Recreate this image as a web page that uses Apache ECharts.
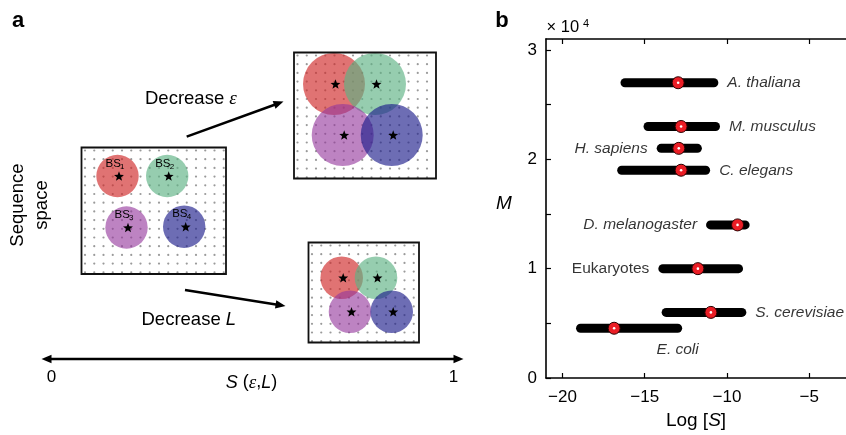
<!DOCTYPE html>
<html>
<head>
<meta charset="utf-8">
<script src="https://cdn.jsdelivr.net/npm/echarts@6/dist/echarts.min.js"></script>
<style>
  html, body { margin: 0; padding: 0; background: #fff; }
  #main { width: 846px; height: 435px; }
</style>
</head>
<body>
<div id="main"></div>
<script>
// panel b data (M in genes, Log[S])
var species = ['A. thaliana', 'M. musculus', 'H. sapiens', 'C. elegans', 'D. melanogaster', 'Eukaryotes', 'S. cerevisiae', 'E. coli'];
var geneCount = [27000, 23000, 21000, 19000, 14000, 10000, 6000, 4550];
var logSLow = [-16.2, -14.8, -14.0, -16.4, -11.0, -13.9, -13.7, -18.9];
var logSHigh = [-10.8, -10.7, -11.8, -11.3, -8.9, -9.3, -9.1, -13.0];
var logSMid = [-12.97, -12.79, -12.93, -12.79, -9.36, -11.77, -10.98, -16.86];
var labelSide = ['right', 'right', 'left', 'right', 'left', 'left', 'right', 'bottom'];
var italicName = [true, true, true, true, true, false, true, true];

var xTicks = [-20, -15, -10, -5];
var yTicks = [0, 5000, 10000, 15000, 20000, 25000, 30000];
var yLabels = [0, 10000, 20000, 30000];

var FONT = 'Liberation Sans, Arial, sans-serif';

// 初始化echarts实例
var myChart = echarts.init(document.getElementById('main'));

// ---------- panel a : schematic drawn with graphic elements ----------
var graphics = [];

function txt(text, x, y, size, o) {
  o = o || {};
  return {
    type: 'text', x: x, y: y, rotation: o.rot || 0, z: o.z || 10,
    style: {
      text: text, x: 0, y: 0, fill: '#000',
      fontSize: size, fontFamily: o.family || FONT,
      fontStyle: o.italic ? 'italic' : 'normal',
      fontWeight: o.bold ? 'bold' : 'normal',
      align: o.align || 'left', textAlign: o.align || 'left',
      verticalAlign: 'middle', textVerticalAlign: 'middle',
      lineHeight: o.lineHeight, rich: o.rich
    }
  };
}

function starPts(cx, cy, R, r) {
  var pts = [];
  for (var i = 0; i < 10; i++) {
    var a = -Math.PI / 2 + i * Math.PI / 5;
    var rr = i % 2 ? r : R;
    pts.push([cx + rr * Math.cos(a), cy + rr * Math.sin(a)]);
  }
  return pts;
}

function head(x, y, a) {
  var L = 10, W = 4.2;
  var bx = x - L * Math.cos(a), by = y - L * Math.sin(a);
  return {
    type: 'polygon', z: 6,
    shape: { points: [[x, y], [bx + W * Math.sin(a), by - W * Math.cos(a)], [bx - W * Math.sin(a), by + W * Math.cos(a)]] },
    style: { fill: '#000' }
  };
}

function arrow(x1, y1, x2, y2, both) {
  var a = Math.atan2(y2 - y1, x2 - x1);
  var sx = both ? x1 + 8 * Math.cos(a) : x1, sy = both ? y1 + 8 * Math.sin(a) : y1;
  graphics.push({
    type: 'line', z: 5,
    shape: { x1: sx, y1: sy, x2: x2 - 8 * Math.cos(a), y2: y2 - 8 * Math.sin(a) },
    style: { stroke: '#000', lineWidth: 2.5 }
  });
  graphics.push(head(x2, y2, a));
  if (both) graphics.push(head(x1, y1, a + Math.PI));
}

var bsColors = ['rgba(207,40,40,0.65)', 'rgba(94,178,132,0.65)', 'rgba(148,55,156,0.62)', 'rgba(30,30,140,0.65)'];
var boxes = [
  { l: 81.5, t: 147.5, r: 226, b: 274, rad: 21.2, lab: true,
    c: [[117.5, 176], [167.2, 176], [126.5, 227.5], [184.2, 226.7]] },
  { l: 294, t: 52.5, r: 436, b: 178.5, rad: 31,
    c: [[334, 84], [375, 84], [342.7, 135], [391.7, 135]] },
  { l: 308.5, t: 242.5, r: 419, b: 342.5, rad: 21.3,
    c: [[341.7, 277.7], [376, 277.7], [350, 311.7], [391.7, 311.7]] }
];

boxes.forEach(function (bx) {
  graphics.push({ type: 'rect', z: 1, shape: { x: bx.l, y: bx.t, width: bx.r - bx.l, height: bx.b - bx.t }, style: { fill: '#fff', stroke: null } });
  for (var gx = bx.l + 3.5; gx < bx.r - 1; gx += 9.25) {
    for (var gy = bx.t + 3; gy < bx.b - 1; gy += 8.7) {
      graphics.push({ type: 'circle', z: 2, silent: true, shape: { cx: gx, cy: gy, r: 1.1 }, style: { fill: '#9a9a9a' } });
    }
  }
  bx.c.forEach(function (c, k) {
    graphics.push({ type: 'circle', z: 3, shape: { cx: c[0], cy: c[1], r: bx.rad }, style: { fill: bsColors[k] } });
    graphics.push({ type: 'polygon', z: 4, shape: { points: starPts(c[0] + 1.5, c[1] + 0.5, 5.2, 2.2) }, style: { fill: '#000' } });
    if (bx.lab) {
      graphics.push(txt('BS', c[0] - 12, c[1] - 12.5, 11.5, { z: 5 }));
      graphics.push(txt(String(k + 1), c[0] + 2.5, c[1] - 9.5, 8, { z: 5 }));
    }
  });
  graphics.push({ type: 'rect', z: 5, shape: { x: bx.l, y: bx.t, width: bx.r - bx.l, height: bx.b - bx.t }, style: { fill: null, stroke: '#111', lineWidth: 1.8 } });
});

arrow(186.7, 136.7, 283.5, 101.5, false);
arrow(185, 290, 285.5, 306, false);
arrow(41.5, 359, 463.5, 359, true);

var serifE = { fontFamily: 'Liberation Serif, DejaVu Serif, serif', fontStyle: 'italic', fontSize: 19 };
graphics.push(txt('a', 18, 20.6, 22, { bold: true, align: 'center' }));
graphics.push(txt('b', 502, 20.6, 22, { bold: true, align: 'center' }));
graphics.push(txt('Decrease {e|ε}', 145, 98.5, 18.5, { rich: { e: serifE } }));
graphics.push(txt('Decrease {i|L}', 141.5, 319.5, 18.5, { rich: { i: { fontFamily: FONT, fontStyle: 'italic', fontSize: 18.5 } } }));
graphics.push(txt('Sequence\nspace', 30, 205, 18.5, { align: 'center', rot: Math.PI / 2, lineHeight: 23.5 }));
graphics.push(txt('0', 51.5, 377, 17, { align: 'center' }));
graphics.push(txt('1', 453.5, 377, 17, { align: 'center' }));
graphics.push(txt('{i|S} ({e|ε},{i|L})', 251.5, 382.5, 18, {
  align: 'center',
  rich: { i: { fontFamily: FONT, fontStyle: 'italic', fontSize: 18 }, e: serifE }
}));

// panel b extra texts
graphics.push(txt('× 10', 546.5, 27.5, 16.5));
graphics.push(txt('4', 583, 23.5, 11));
graphics.push(txt('M', 504, 204, 19, { italic: true, align: 'center' }));

// ---------- panel b : series ----------
var series = [];
species.forEach(function (s, i) {
  series.push({
    type: 'line', name: s, silent: true, symbol: 'none', z: 2,
    data: [[logSLow[i], geneCount[i]], [logSHigh[i], geneCount[i]]],
    lineStyle: { color: '#000', width: 9, cap: 'round' }
  });
});

series.push({
  type: 'scatter', z: 3, symbolSize: 12,
  data: logSMid.map(function (x, i) { return [x, geneCount[i]]; }),
  itemStyle: { color: '#ea1d25', borderColor: '#2a0000', borderWidth: 1, opacity: 1 }
});
series.push({
  type: 'scatter', z: 4, symbolSize: 2.6,
  data: logSMid.map(function (x, i) { return [x, geneCount[i]]; }),
  itemStyle: { color: '#fff', opacity: 1 }
});
series.push({
  type: 'scatter', z: 5, symbolSize: 0,
  itemStyle: { color: 'rgba(0,0,0,0)' },
  data: species.map(function (s, i) {
    var side = labelSide[i];
    var x = side === 'left' ? logSLow[i] : logSHigh[i];
    return {
      name: s, value: [x, geneCount[i]],
      label: {
        show: true, position: side, distance: side === 'bottom' ? 13 : 13.5,
        formatter: '{b}', color: '#000', fontFamily: FONT, fontSize: 15.5,
        fontStyle: italicName[i] ? 'italic' : 'normal'
      }
    };
  })
});

// 指定图表的配置项和数据
var option = {
  animation: false,
  backgroundColor: '#fff',
  grid: { left: 546, top: 39, right: 0, bottom: 57, containLabel: false, outerBoundsMode: 'none' },
  xAxis: [
    {
      type: 'value', min: -21, max: -2.77, position: 'bottom',
      name: 'Log [{i|S}]', nameLocation: 'middle', nameGap: 33,
      nameTextStyle: {
        color: '#000', fontFamily: FONT, fontSize: 19,
        rich: { i: { color: '#000', fontFamily: FONT, fontSize: 19, fontStyle: 'italic' } }
      },
      axisLine: { lineStyle: { color: '#000', width: 1.6 } },
      axisTick: { inside: true, length: 5, customValues: xTicks, lineStyle: { color: '#000', width: 1.2 } },
      axisLabel: {
        customValues: xTicks, margin: 11, color: '#000', fontFamily: FONT, fontSize: 17,
        formatter: function (v) { return String(v).replace('-', '−'); }
      },
      splitLine: { show: false }
    },
    {
      type: 'value', min: -21, max: -2.77, position: 'top',
      axisLine: { lineStyle: { color: '#000', width: 1.6 } },
      axisTick: { inside: true, length: 5, customValues: xTicks, lineStyle: { color: '#000', width: 1.2 } },
      axisLabel: { show: false },
      splitLine: { show: false }
    }
  ],
  yAxis: {
    type: 'value', min: 0, max: 31000,
    axisLine: { show: true, lineStyle: { color: '#000', width: 1.6 } },
    axisTick: { show: true, inside: true, length: 5, customValues: yTicks, lineStyle: { color: '#000', width: 1.2 } },
    axisLabel: {
      customValues: yLabels, margin: 9, color: '#000', fontFamily: FONT, fontSize: 17,
      formatter: function (v) { return String(v / 10000); }
    },
    splitLine: { show: false }
  },
  graphic: { elements: graphics },
  series: series
};

// 使用刚指定的配置项和数据显示图表。
myChart.setOption(option);
</script>
</body>
</html>
